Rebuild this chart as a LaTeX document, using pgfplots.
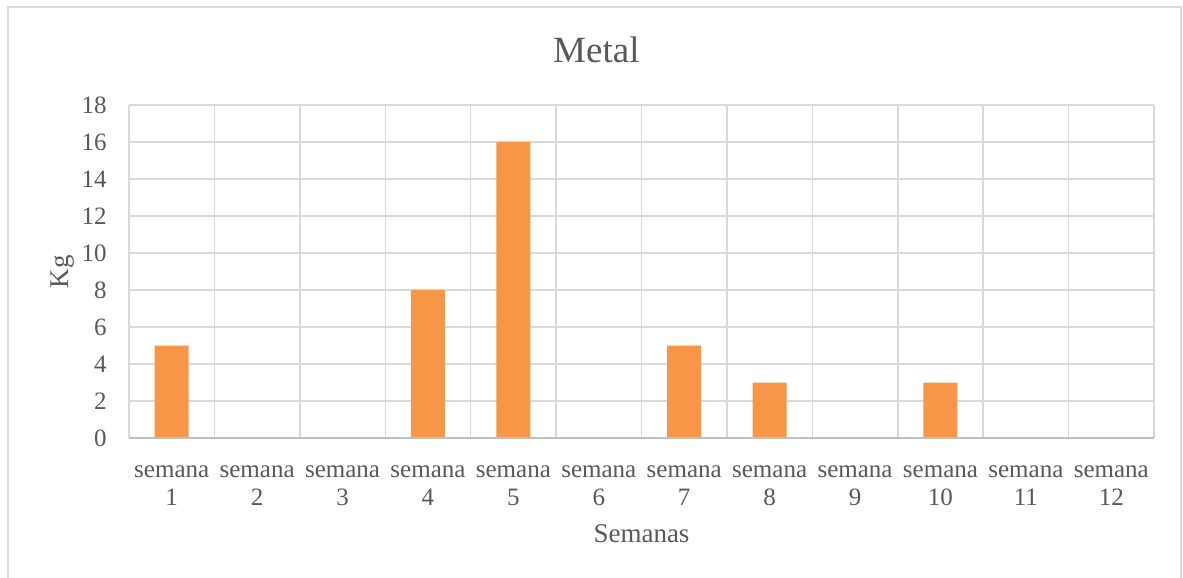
\documentclass[border=0pt]{standalone}
\usepackage{pgfplots}
\pgfplotsset{compat=1.18}
\usepackage{fontspec}
\setmainfont{Liberation Serif}
\definecolor{barorange}{HTML}{F79646}
\definecolor{gridgray}{HTML}{D9D9D9}
\definecolor{txtgray}{HTML}{595959}
\definecolor{axisgray}{HTML}{BFBFBF}

\begin{document}
\begin{tikzpicture}
\useasboundingbox (0,0) rectangle (591.5pt,289pt);
\draw[gridgray, line width=0.75pt] (4pt,-5pt) rectangle (590.5pt,285.5pt);
\begin{axis}[
  at={(64.5pt,70pt)}, anchor=south west,
  scale only axis, width=512.5pt, height=166.5pt,
  ybar, bar width=17pt,
  xmin=0.5, xmax=12.5, ymin=0, ymax=18,
  ytick={0,2,...,18},
  xtick={1,...,12},
  xticklabels={{semana\\1},{semana\\2},{semana\\3},{semana\\4},{semana\\5},{semana\\6},
    {semana\\7},{semana\\8},{semana\\9},{semana\\10},{semana\\11},{semana\\12}},
  minor xtick={0.5,1.5,...,12.5},
  xminorgrids=true, ymajorgrids=true, xmajorgrids=false,
  grid style={gridgray, line width=0.75pt},
  minor grid style={gridgray, line width=0.75pt},
  major tick length=0pt, minor tick length=0pt,
  axis line style={draw=none},
  /pgf/number format/assume math mode=true,
  tick label style={font=\fontsize{12.5}{14}\selectfont, text=txtgray},
  xticklabel style={align=center, inner sep=0pt, anchor=north, yshift=-13.5pt},
  yticklabel style={inner sep=0pt, anchor=east, xshift=-11pt},
  title=Metal,
  title style={font=\fontsize{18.5}{22}\selectfont, text=txtgray,
    at={(rel axis cs:0.456,1.093)}, anchor=base},
  xlabel=Semanas,
  xlabel style={font=\fontsize{13.5}{16}\selectfont, text=txtgray,
    at={(rel axis cs:0.5,-0.3153)}, anchor=base},
  ylabel=Kg,
  ylabel style={font=\fontsize{13.5}{16}\selectfont, text=txtgray,
    at={(rel axis cs:-0.065,0.5)}, anchor=center},
]
\addplot[draw=none, fill=barorange] coordinates {
  (1,5) (2,0) (3,0) (4,8) (5,16) (6,0) (7,5) (8,3) (9,0) (10,3) (11,0) (12,0)};
\draw[axisgray, line width=0.75pt] (rel axis cs:0,0) -- (rel axis cs:1,0);
\end{axis}
\end{tikzpicture}
\end{document}
